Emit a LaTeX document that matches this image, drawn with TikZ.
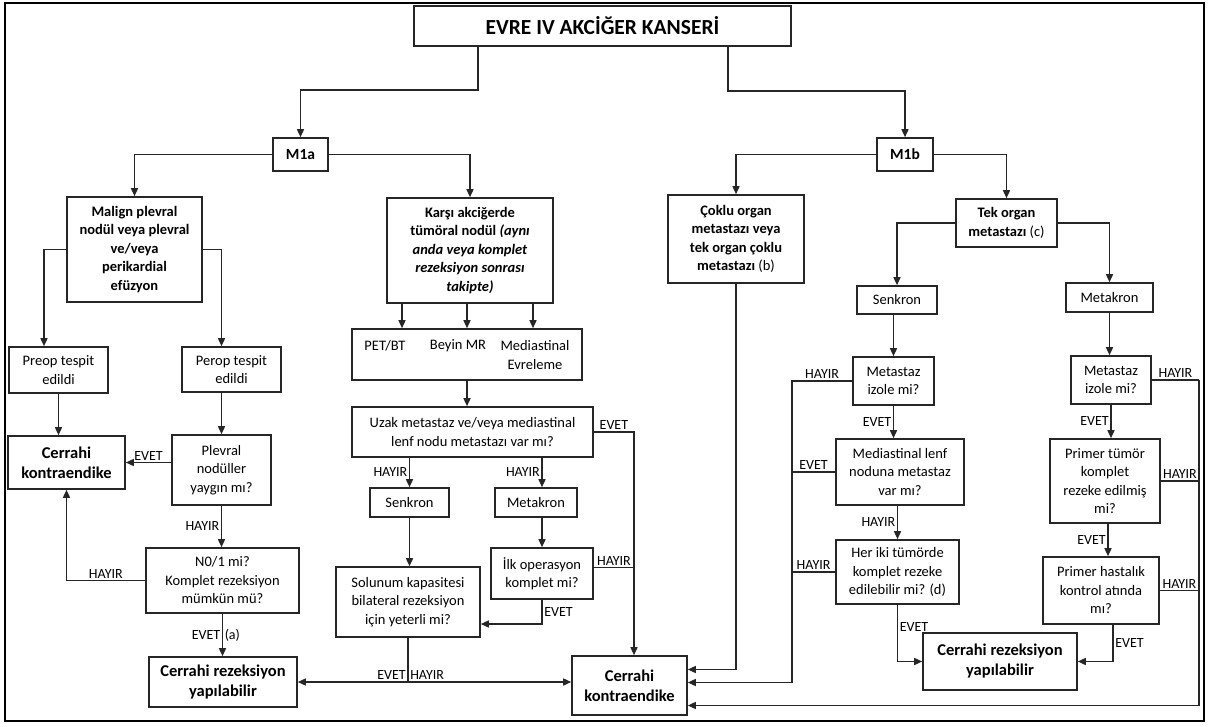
\documentclass[tikz,border=0pt]{standalone}
\usepackage{fontspec}
\setmainfont{Carlito}
\usetikzlibrary{arrows.meta}

\begin{document}
\begin{tikzpicture}[
  x=1pt, y=-1pt,
  box/.style={draw=black!85, line width=1.6pt, align=center, inner sep=2pt, font=\fontsize{14.5}{18.5}\selectfont},
  head/.style={box, font=\bfseries\fontsize{14.5}{18.5}\selectfont},
  res/.style={box, font=\bfseries\fontsize{16.5}{20}\selectfont},
  txt/.style={inner sep=0pt, align=center, font=\fontsize{14.5}{18.5}\selectfont},
  lbl/.style={inner sep=1.5pt, font=\fontsize{14}{16}\selectfont},
  line/.style={draw=black!85, line width=1.5pt},
  arr/.style={line, -{Triangle[length=8pt,width=7pt]}}
  ]
	\useasboundingbox (0,0) rectangle (1209,727);
	\draw[line width=2.8pt] (5,3) rectangle (1204,721);

	\node[box, font=\bfseries\fontsize{21.5}{24}\selectfont, minimum width=377pt, minimum height=40pt] (title) at (602.5,26) {EVRE IV AKCİĞER KANSERİ};

	\node[head, font=\bfseries\fontsize{15.5}{18}\selectfont, minimum width=55pt, minimum height=33pt] (m1a) at (300.5,154.5) {M1a};
	\node[head, font=\bfseries\fontsize{15.5}{18}\selectfont, minimum width=56pt, minimum height=33pt] (m1b) at (905,154.5) {M1b};

	\node[head, minimum width=135pt, minimum height=105pt] (malign) at (134.5,249.5) {Malign plevral\\nodül veya plevral\\ve/veya\\perikardial\\efüzyon};
	\node[head, minimum width=166pt, minimum height=105pt] (karsi) at (470,250.5) {Karşı akciğerde\\tümöral nodül \textit{(aynı}\\\textit{anda veya komplet}\\\textit{rezeksiyon sonrası}\\\textit{takipte)}};
	\node[head, minimum width=136pt, minimum height=88pt] (coklu) at (736,239) {Çoklu organ\\metastazı veya\\tek organ çoklu\\metastazı \textmd{(b)}};
	\node[head, minimum width=101pt, minimum height=48pt] (tek) at (1006.5,223) {Tek organ\\metastazı \textmd{(c)}};

	\node[box, minimum width=99pt, minimum height=46pt] (preop) at (58.5,370) {Preop tespit\\edildi};
	\node[box, minimum width=99pt, minimum height=45pt] (perop) at (231.5,369.5) {Perop tespit\\edildi};
	\node[res, minimum width=117pt, minimum height=53pt] (kontraL) at (66.5,462.5) {Cerrahi\\kontraendike};
	\node[box, minimum width=99pt, minimum height=70pt] (plevral) at (221.5,470) {Plevral\\nodüller\\yaygın mı?};
	\node[box, minimum width=153pt, minimum height=65pt] (n01) at (222.5,580.5) {N0/1 mi?\\Komplet rezeksiyon\\mümkün mü?};
	\node[res, minimum width=148pt, minimum height=50pt] (rezL) at (223,682) {Cerrahi rezeksiyon\\yapılabilir};

	\node[box, minimum width=230pt, minimum height=51pt] (pet) at (467,354.5) {};
	\node[txt] (petbt) at (385,346) {PET/BT};
	\node[txt] (beyin) at (458,346) {Beyin MR};
	\node[txt] (medev) at (535,355) {Mediastinal\\Evreleme};
	\node[box, minimum width=241pt, minimum height=50pt] (uzak) at (472.5,432) {Uzak metastaz ve/veya mediastinal\\lenf nodu metastazı var mı?};
	\node[box, minimum width=79pt, minimum height=29pt] (senkL) at (409.5,502.5) {Senkron};
	\node[box, minimum width=82pt, minimum height=29pt] (metaL) at (536,502.5) {Metakron};
	\node[box, minimum width=102pt, minimum height=51pt] (ilk) at (542,573.5) {İlk operasyon\\komplet mi?};
	\node[box, minimum width=144pt, minimum height=70pt] (solunum) at (408,602) {Solunum kapasitesi\\bilateral rezeksiyon\\için yeterli mi?};
	\node[res, minimum width=115pt, minimum height=59pt] (kontraC) at (629.5,685.5) {Cerrahi\\kontraendike};

	\node[box, minimum width=80pt, minimum height=28pt] (senkR) at (897,300) {Senkron};
	\node[box, minimum width=81pt, minimum height=48pt] (izoleL) at (893.5,381) {Metastaz\\izole mi?};
	\node[box, minimum width=128pt, minimum height=66pt] (medL) at (900,472) {Mediastinal lenf\\noduna metastaz\\var mı?};
	\node[box, minimum width=123pt, minimum height=64pt] (heriki) at (897.5,572) {Her iki tümörde\\komplet rezeke\\edilebilir mi? (d)};
	\node[res, minimum width=154pt, minimum height=57pt] (rezR) at (1000,661.5) {Cerrahi rezeksiyon\\yapılabilir};

	\node[box, minimum width=87pt, minimum height=29pt] (metaR) at (1109.5,297.5) {Metakron};
	\node[box, minimum width=80pt, minimum height=48pt] (izoleR) at (1111,380) {Metastaz\\izole mi?};
	\node[box, minimum width=110pt, minimum height=84pt] (primerT) at (1105,481) {Primer tümör\\komplet\\rezeke edilmiş\\mi?};
	\node[box, minimum width=116pt, minimum height=67pt] (primerH) at (1101,590.5) {Primer hastalık\\kontrol atında\\mı?};

	\coordinate (cbus) at (634,0);
	\coordinate (lbus) at (792,0);
	\coordinate (rbus) at (1199,0);

	\draw[arr] ([xshift=-124.5pt]title.south) -- ++(0,43) -| (m1a.north);
	\draw[arr] ([xshift=125.5pt]title.south) -- ++(0,44) -| (m1b.north);
	\draw[arr] (m1a.west) -| (malign.north);
	\draw[arr] (m1a.east) -| (karsi.north);
	\draw[arr] (m1b.west) -| (coklu.north);
	\draw[arr] (m1b.east) -| (tek.north);

	\draw[arr] (malign.west) -| ([xshift=-14.5pt]preop.north);
	\draw[arr] (malign.east) -| (perop.north -| plevral.north);
	\draw[arr] (preop.south) -- (preop.south |- kontraL.north);
	\draw[arr] (perop.south -| plevral.north) -- (plevral.north);
	\draw[arr] (plevral.west |- kontraL.east) -- (kontraL.east) node[lbl, midway, above] (e1) {EVET};
	\draw[arr] (plevral.south) -- (plevral.south |- n01.north) node[lbl, midway, left] (h1) {HAYIR};
	\draw[arr] (n01.west) -| (kontraL.south) node[lbl, pos=0.25, above] (h2) {HAYIR};
	\draw[arr] (n01.south) -- (n01.south |- rezL.north) node[lbl, midway, left] (e2) {EVET} node[lbl, midway, right] (a) {(a)};

	\draw[arr] ([xshift=-68pt]karsi.south) -- ([xshift=-68pt]karsi.south |- pet.north);
	\draw[arr] ([xshift=-3pt]karsi.south) -- ([xshift=-3pt]karsi.south |- pet.north);
	\draw[arr] ([xshift=63pt]karsi.south) -- ([xshift=63pt]karsi.south |- pet.north);
	\draw[arr] (pet.south) -- (pet.south |- uzak.north);
	\draw[arr] (uzak.east) -| (kontraC.north -| cbus) node[lbl, pos=0.25, above] (e3) {EVET};
	\draw[arr] (senkL.north |- uzak.south) -- (senkL.north) node[lbl, midway, left] (h3) {HAYIR};
	\draw[arr] (ilk.north |- uzak.south) -- (ilk.north |- metaL.north) node[lbl, midway, left] (h4) {HAYIR};
	\draw[arr] (senkL.south) -- (senkL.south |- solunum.north);
	\draw[arr] (metaL.south -| ilk.north) -- (ilk.north);
	\draw[line] ([yshift=6pt]ilk.east) -- ([yshift=6pt]ilk.east -| cbus) node[lbl, midway, above] (h5) {HAYIR};
	\draw[arr] (ilk.south) |- ([yshift=-22pt]solunum.east) node[lbl, pos=0.25, right] (e4) {EVET};
	\coordinate (sj) at (solunum.south |- rezL.east);
	\draw[line] (solunum.south) -- (sj);
	\draw[arr] (sj) -- (rezL.east) node[lbl, pos=0, above left] (e5) {EVET};
	\draw[arr] (sj) -- (sj -| kontraC.west) node[lbl, pos=0, above right] (h6) {HAYIR};

	\draw[arr] (coklu.south) |- ([yshift=16pt]kontraC.east);
	\draw[arr] (tek.west) -| (senkR.north);
	\draw[arr] (tek.east) -| (metaR.north);
	\draw[arr] (izoleL.north |- senkR.south) -- (izoleL.north);
	\draw[arr] (izoleL.west) -| ([yshift=3pt]kontraC.east -| lbus) node[lbl, pos=0.25, above] (h7) {HAYIR} -- ([yshift=3pt]kontraC.east);
	\draw[line] (medL.west) -- (medL.west -| lbus) node[lbl, midway, above] (e6) {EVET};
	\draw[line] (heriki.west) -- (heriki.west -| lbus) node[lbl, midway, above] (h8) {HAYIR};
	\draw[arr] (izoleL.south) -- (izoleL.south |- medL.north) node[lbl, midway, left] (e7) {EVET};
	\draw[arr] (heriki.north |- medL.south) -- (heriki.north) node[lbl, midway, left] (h9) {HAYIR};
	\draw[arr] (heriki.south) |- (rezR.west) node[lbl, pos=0.2, right] (e8) {EVET};

	\draw[arr] (metaR.south) -- (metaR.south |- izoleR.north);
	\draw[arr] (izoleR.south) -- (izoleR.south |- primerT.north) node[lbl, midway, left] (e9) {EVET};
	\draw[arr] ([xshift=3pt]primerT.south) -- ([xshift=3pt]primerT.south |- primerH.north) node[lbl, midway, left] (e10) {EVET};
	\draw[arr] ([xshift=12pt]primerH.south) |- (rezR.east) node[lbl, pos=0.25, right] (e11) {EVET};
	\draw[line] (izoleR.east) -- (izoleR.east -| rbus) node[lbl, midway, above] (h10) {HAYIR};
	\draw[line] (primerT.east) -- (primerT.east -| rbus) node[lbl, midway, above] (h11) {HAYIR};
	\draw[line] (primerH.east) -- (primerH.east -| rbus) node[lbl, midway, above] (h12) {HAYIR};
	\draw[arr] (izoleR.east -| rbus) |- ([yshift=-20pt]kontraC.east);
\end{tikzpicture}
\end{document}
